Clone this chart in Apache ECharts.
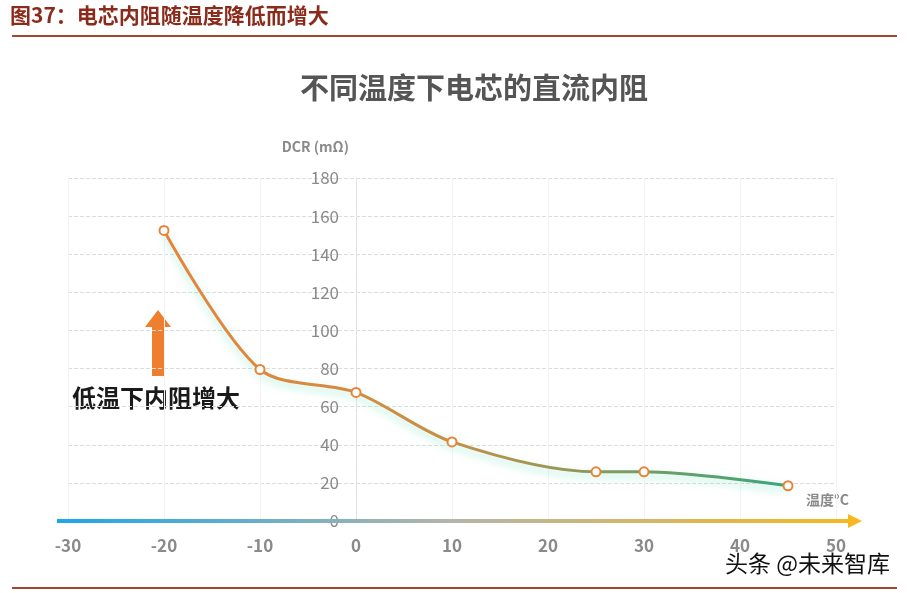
<!DOCTYPE html>
<html><head><meta charset="utf-8">
<script src="https://cdn.jsdelivr.net/npm/echarts@6/dist/echarts.min.js"></script>
<style>html,body{margin:0;padding:0;background:#fff}#c{width:907px;height:593px}</style>
</head><body><div id="c"></div>
<script>
const temps = [-20, -10, 0, 10, 25, 30, 45];
const dcr = [152.5, 79.5, 67.5, 41.5, 25.8, 25.8, 18.5];
const xTicks = [-30, -20, -10, 0, 10, 20, 30, 40, 50];
const yTicks = [0, 20, 40, 60, 80, 100, 120, 140, 160, 180];

const FONT = '"Noto Sans CJK SC","Noto Sans",sans-serif';
const chart = echarts.init(document.getElementById('c'));
const G = echarts.graphic;
chart.setOption({
  animation: false,
  textStyle: { fontFamily: FONT },
  grid: { left: 68, right: 71, top: 178, bottom: 72, containLabel: false, outerBoundsMode: 'none' },
  xAxis: {
    type: 'value', min: xTicks[0], max: xTicks[xTicks.length - 1], interval: 10,
    axisLine: { show: false },
    axisTick: { show: false },
    splitLine: { show: true, lineStyle: { color: '#f3f3f3', width: 1 } },
    axisLabel: { color: '#8a8a8a', fontSize: 17, fontWeight: 'bold', margin: 16, fontFamily: FONT }
  },
  yAxis: {
    type: 'value', min: yTicks[0], max: yTicks[yTicks.length - 1], interval: 20,
    offset: -288,
    name: 'DCR (mΩ)', nameLocation: 'end', nameGap: 24,
    nameTextStyle: { color: '#8a8a8a', fontSize: 14, fontWeight: 'bold', align: 'right', padding: [0, 7, 0, 0], fontFamily: FONT },
    axisLine: { show: true, onZero: false, lineStyle: { color: '#dedede', type: 'dashed' } },
    axisTick: { show: false },
    splitLine: { show: true, lineStyle: { color: '#dcdcdc', type: 'dashed' } },
    axisLabel: { color: '#8a8a8a', fontSize: 17, margin: 17, fontFamily: FONT }
  },
  series: [{
    type: 'line', data: temps.map((t, i) => [t, dcr[i]]),
    smooth: 0.3,
    symbol: 'circle', symbolSize: 9,
    itemStyle: { color: '#fff', borderColor: '#e8843a', borderWidth: 2 },
    lineStyle: {
      width: 3,
      color: new G.LinearGradient(0, 0, 1, 0, [
        { offset: 0, color: '#e8843a' }, { offset: 0.45, color: '#c98f45' }, { offset: 1, color: '#38a67a' }
      ]),
      shadowColor: 'rgba(90,220,175,0.55)', shadowBlur: 8, shadowOffsetY: 4
    },
    z: 5
  }],
  graphic: [
    { type: 'text', left: 10, top: 5, style: { text: '图37：电芯内阻随温度降低而增大', fill: '#8b2b1c', font: 'bold 21px ' + FONT } },
    { type: 'rect', shape: { x: 12, y: 35, width: 885, height: 2 }, style: { fill: '#a4472b' } },
    { type: 'rect', shape: { x: 12, y: 587, width: 885, height: 2 }, style: { fill: '#a4472b' } },
    { type: 'text', left: 300, top: 73, style: { text: '不同温度下电芯的直流内阻', fill: '#555', font: 'bold 29px ' + FONT } },
    { type: 'line', shape: { x1: 57, y1: 521, x2: 852, y2: 521 }, z: 3,
      style: { lineWidth: 4, stroke: new G.LinearGradient(0, 0, 1, 0, [
        { offset: 0, color: '#1aa7ea' }, { offset: 0.5, color: '#b5b5a8' }, { offset: 1, color: '#f6b81c' }]) } },
    { type: 'polygon', shape: { points: [[848, 514], [862, 521], [848, 528]] }, style: { fill: '#f6b81c' }, z: 3 },
    { type: 'text', left: 806, top: 493, style: { text: '温度°C', fill: '#8a8a8a', font: 'bold 14px ' + FONT } },
    { type: 'polygon', shape: { points: [[152, 376], [152, 327], [145, 327], [158, 310], [171, 327], [164, 327], [164, 376]] }, style: { fill: '#ef7f2f' } },
    { type: 'text', left: 72, top: 386, style: { text: '低温下内阻增大', fill: '#1a1a1a', font: 'bold 24px ' + FONT } },
    { type: 'text', left: 724, top: 551, style: { text: '头条 @未来智库', fill: '#111', stroke: '#fff', lineWidth: 2, font: '23px ' + FONT } }
  ]
});
</script></body></html>
